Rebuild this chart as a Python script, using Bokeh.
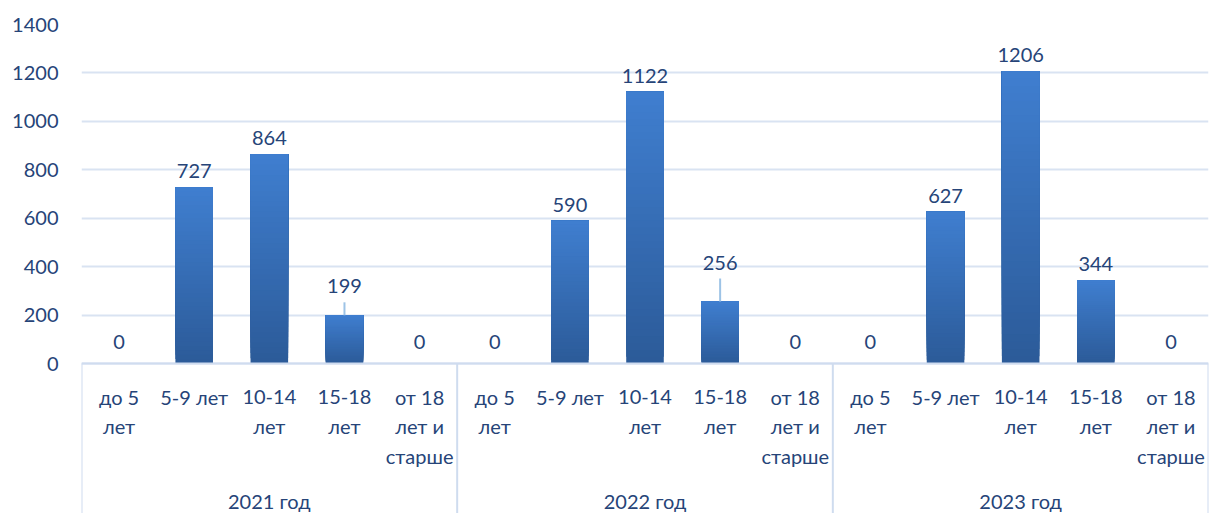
import numpy as np
from bokeh.plotting import figure
from bokeh.models import Range1d, FixedTicker
from bokeh.core.properties import value
from bokeh.embed import file_html
from bokeh.resources import INLINE

# ---------------- data ----------------
years = ["2021 год", "2022 год", "2023 год"]
age_groups = ["до 5\nлет", "5-9 лет", "10-14\nлет", "15-18\nлет", "от 18\nлет и\nстарше"]
values_2021 = [0, 727, 864, 199, 0]
values_2022 = [0, 590, 1122, 256, 0]
values_2023 = [0, 627, 1206, 344, 0]
y_ticks = [0, 200, 400, 600, 800, 1000, 1200, 1400]

# ---------------- layout / style ----------------
W, H = 1209, 513
BL, BR, BT, BB = 81, 1, 24, 0
Y_MAX = 1400
ZERO_PX = 339                     # pixels from frame top to the zero line
frame_h = H - BT - BB
ppu = ZERO_PX / Y_MAX             # pixels per data unit
Y_MIN = -(frame_h - ZERO_PX) / ppu


def px(d):
    return d / ppu


TEXT = "#264478"
GRID = "#D9E3F2"
AXIS = "#CFDCEF"
LEADER = "#9DC3E6"
TOP_RGB = np.array([63, 126, 207])
BOT_RGB = np.array([44, 91, 153])
FONT = value("Lato")
FS = value("20px")

all_values = values_2021 + values_2022 + values_2023
n_groups = len(years)
n_cat = len(age_groups)
n_total = n_groups * n_cat

p = figure(width=W, height=H, x_range=Range1d(0, n_total), y_range=Range1d(Y_MIN, Y_MAX),
           output_backend="svg", toolbar_location=None, title=None,
           min_border_left=BL, min_border_right=BR, min_border_top=BT, min_border_bottom=BB)
p.outline_line_color = None
p.xaxis.visible = False
p.xgrid.grid_line_color = None
p.yaxis.ticker = FixedTicker(ticks=y_ticks)
p.yaxis.axis_line_color = None
p.yaxis.major_tick_line_color = None
p.yaxis.minor_tick_line_color = None
p.yaxis.major_tick_out = 0
p.yaxis.major_tick_in = 0
p.yaxis.major_label_standoff = 23
p.yaxis.major_label_text_font = "Lato"
p.yaxis.major_label_text_font_size = "20px"
p.yaxis.major_label_text_color = TEXT
p.ygrid.grid_line_color = GRID
p.ygrid.grid_line_width = 2

# ---------------- gradient bars (overlapping layers, bottom to top) ----------------
N = 40
BAR_W = 0.5
L, R, B, T, C = [], [], [], [], []
for k in range(N):
    col = BOT_RGB + (TOP_RGB - BOT_RGB) * k / (N - 1)
    hexcol = "#%02x%02x%02x" % tuple(int(round(c)) for c in col)
    for i, v in enumerate(all_values):
        if v <= 0:
            continue
        L.append(i + 0.5 - BAR_W / 2)
        R.append(i + 0.5 + BAR_W / 2)
        B.append(v * k / N)
        T.append(v)
        C.append(hexcol)
p.quad(left=L, right=R, bottom=B, top=T, fill_color=C, line_color=None)

# ---------------- axis lines ----------------
p.segment(x0=[0], y0=[0], x1=[n_total], y1=[0], line_color=AXIS, line_width=2)
sep_x = [g * n_cat for g in range(n_groups + 1)]
p.segment(x0=sep_x, y0=[0] * len(sep_x), x1=sep_x, y1=[Y_MIN] * len(sep_x),
          line_color=AXIS, line_width=2)

# ---------------- data labels ----------------
leader_lift = {3: 22, 8: 32}     # labels moved up with a leader line (px)
lx, ly, lt = [], [], []
seg_x, seg_y0, seg_y1 = [], [], []
for i, v in enumerate(all_values):
    if i in leader_lift:
        gap = leader_lift[i]
        seg_x.append(i + 0.5)
        seg_y0.append(v)
        seg_y1.append(v + px(gap - 9))
    elif v == 0:
        gap = 15
    else:
        gap = 9
    lx.append(i + 0.5)
    ly.append(v + px(gap))
    lt.append(str(v))
p.text(x=lx, y=ly, text=lt, text_font=FONT, text_font_size=FS, text_color=TEXT,
       text_align="center", text_baseline="bottom")
p.segment(x0=seg_x, y0=seg_y0, x1=seg_x, y1=seg_y1, line_color=LEADER, line_width=2)

# ---------------- category labels ----------------
line_px = [33, 62, 92]
cx, cy, ct = [], [], []
for g in range(n_groups):
    for j, lab in enumerate(age_groups):
        for k, line in enumerate(lab.split("\n")):
            cx.append(g * n_cat + j + 0.5)
            cy.append(-px(line_px[k]))
            ct.append(line)
p.text(x=cx, y=cy, text=ct, text_font=FONT, text_font_size=FS, text_color=TEXT,
       text_align="center", text_baseline="middle")

gx = [g * n_cat + n_cat / 2 for g in range(n_groups)]
gy = [-px(137)] * n_groups
p.text(x=gx, y=gy, text=years, text_font=FONT, text_font_size=FS, text_color=TEXT,
       text_align="center", text_baseline="middle")

open("out.html", "w").write(file_html(p, INLINE))
